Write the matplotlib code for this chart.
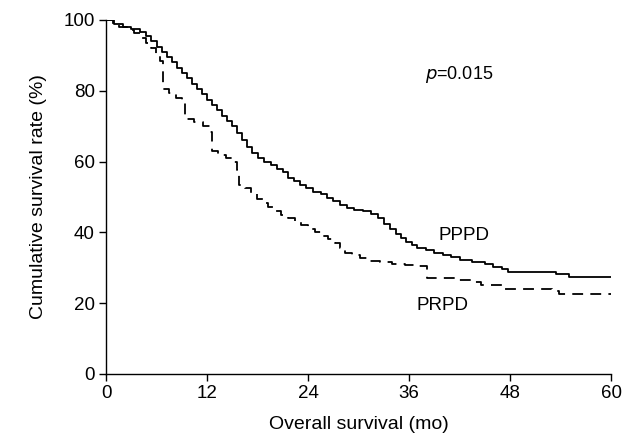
import matplotlib
matplotlib.use("Agg")
import matplotlib.pyplot as plt

plt.rcParams["font.family"] = ["Liberation Sans", "DejaVu Sans"]

# Kaplan-Meier step points (months, % surviving)
pppd_t = [0, 1.0, 2.0, 3.0, 4.0, 4.8, 5.3, 6.0, 6.6, 7.2, 7.8, 8.4, 9.0, 9.6,
          10.2, 10.8, 11.4, 12.0, 12.6, 13.2, 13.8, 14.4, 15.0, 15.6, 16.2,
          16.8, 17.4, 18.0, 18.8, 19.6, 20.3, 21.0, 21.6, 22.3, 23.0, 23.8,
          24.6, 25.5, 26.3, 27.0, 27.8, 28.6, 29.5, 30.5, 31.5, 32.3, 33.0,
          33.7, 34.4, 35.0, 35.7, 36.3, 37.0, 38.0, 39.0, 40.0, 41.0, 42.0,
          43.5, 45.0, 46.0, 47.0, 47.8, 53.5, 55.0, 60]
pppd_s = [100, 99.0, 98.0, 97.5, 96.5, 95.5, 94.0, 92.5, 91.0, 89.5, 88.0, 86.5,
          85.0, 83.5, 82.0, 80.5, 79.0, 77.5, 76.0, 74.5, 73.0, 71.5, 70.0, 68.0,
          66.0, 64.0, 62.5, 61.0, 60.0, 59.0, 58.0, 57.0, 55.5, 54.5, 53.5, 52.5,
          51.5, 50.8, 49.8, 48.8, 47.8, 47.0, 46.3, 46.0, 45.3, 44.0, 42.5, 41.0,
          39.5, 38.3, 37.3, 36.3, 35.6, 35.0, 34.3, 33.6, 33.0, 32.3, 31.7, 31.0,
          30.3, 29.6, 28.8, 28.2, 27.4, 27.4]

prpd_t = [0, 0.8, 1.6, 2.5, 3.3, 4.0, 4.7, 5.3, 5.9, 6.4, 6.8, 7.5, 8.3, 9.0,
          9.4, 10.5, 11.5, 12.3, 12.6, 13.3, 14.2, 15.0, 15.6, 15.8, 16.5, 17.2,
          17.9, 18.6, 19.3, 20.0, 20.8, 21.6, 22.4, 23.2, 24.0, 24.8, 25.6,
          26.4, 27.2, 27.8, 28.4, 29.2, 30.2, 31.2, 32.5, 34.0, 35.5, 37.0,
          38.1, 41.5, 43.5, 44.5, 47.4, 53.0, 53.8, 60]
prpd_s = [100, 99.0, 98.0, 97.3, 96.3, 95.0, 93.5, 92.0, 90.0, 88.5, 80.5, 79.5,
          78.0, 76.5, 72.0, 71.3, 70.0, 68.5, 63.0, 62.0, 61.0, 60.0, 57.5, 53.5,
          52.5, 51.0, 49.5, 48.3, 47.2, 46.0, 45.0, 44.0, 43.0, 42.0, 41.0, 40.0,
          39.0, 38.0, 37.0, 35.5, 34.3, 33.5, 32.8, 32.0, 31.6, 31.2, 30.9, 30.5,
          27.2, 26.6, 26.0, 25.2, 24.0, 23.4, 22.5, 22.5]

xticks = [0, 12, 24, 36, 48, 60]
yticks = [0, 20, 40, 60, 80, 100]

fig = plt.figure(figsize=(6.33, 4.41), dpi=100)
ax = fig.add_axes([106 / 633, 67 / 441, 505 / 633, 354 / 441])

ax.plot(pppd_t, pppd_s, drawstyle="steps-post", color="black", lw=1.3)
ax.plot(prpd_t, prpd_s, drawstyle="steps-post", color="black", lw=1.3,
        dashes=(6, 4))

ax.set_xlim(0, 60)
ax.set_ylim(0, 100)
ax.set_xticks(xticks)
ax.set_yticks(yticks)
ax.tick_params(direction="out", length=5, width=1, labelsize=13.5, pad=3)
for side in ("top", "right"):
    ax.spines[side].set_visible(False)
for side in ("left", "bottom"):
    ax.spines[side].set_linewidth(1)

ax.set_xlabel("Overall survival (mo)", fontsize=14, labelpad=10)
ax.set_ylabel("Cumulative survival rate (%)", fontsize=14, labelpad=12)

ax.text(42.5, 39, "PPPD", fontsize=13.5, ha="center", va="center")
ax.text(40.0, 19.3, "PRPD", fontsize=13.5, ha="center", va="center")
ax.text(42.0, 84.5, r"$\it{p}$=0.015", fontsize=13, ha="center", va="center")

fig.savefig("out.png", dpi=100)
